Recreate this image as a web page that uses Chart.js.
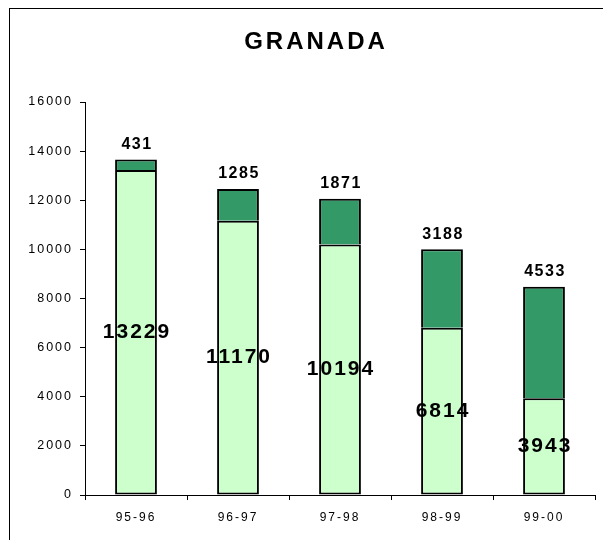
<!DOCTYPE html>
<html>
<head>
<meta charset="utf-8">
<script src="https://cdn.jsdelivr.net/npm/chart.js@4.4.0/dist/chart.umd.min.js"></script>
<style>
  html, body { margin: 0; padding: 0; background: #fff; }
  #wrap { width: 603px; height: 540px; }
</style>
</head>
<body>
<div id="wrap"><canvas id="myChart" width="603" height="540"></canvas></div>
<script>
var seasons = ['95-96', '96-97', '97-98', '98-99', '99-00'];
var lowerVals = [13229, 11170, 10194, 6814, 3943];
var upperVals = [431, 1285, 1871, 3188, 4533];
var yTicks = [0, 2000, 4000, 6000, 8000, 10000, 12000, 14000, 16000];

var FONT = '"Liberation Sans", Arial, sans-serif';

// frame, title and value labels drawn by hand
var extras = {
    id: 'extras',
    beforeDraw: function (chart) {
        var ctx = chart.ctx;
        ctx.save();
        ctx.fillStyle = '#fff';
        ctx.fillRect(0, 0, chart.width, chart.height);
        ctx.strokeStyle = '#000';
        ctx.lineWidth = 1;
        ctx.strokeRect(9.5, 8.5, 800, 800);
        ctx.restore();
        // tick labels in the original are spaced out a bit
        ctx.letterSpacing = '2px';
    },
    afterDatasetsDraw: function (chart) {
        var ctx = chart.ctx;
        ctx.save();
        ctx.fillStyle = '#000';
        ctx.textAlign = 'center';
        ctx.textBaseline = 'middle';

        ctx.font = 'bold 24px ' + FONT;
        ctx.letterSpacing = '3px';
        ctx.fillText('GRANADA', 316, 42);

        var m0 = chart.getDatasetMeta(0);
        ctx.font = 'bold 21px ' + FONT;
        ctx.letterSpacing = '2px';
        m0.data.forEach(function (bar, i) {
            ctx.fillText(String(lowerVals[i]), bar.x + 1, (bar.y + bar.base) / 2);
        });

        var m1 = chart.getDatasetMeta(1);
        ctx.font = 'bold 16px ' + FONT;
        ctx.letterSpacing = '1.5px';
        m1.data.forEach(function (bar, i) {
            ctx.fillText(String(upperVals[i]), bar.x + 1, bar.y - 15);
        });
        ctx.restore();
    }
};

var ctx_bar = document.getElementById('myChart');
var chart = new Chart(ctx_bar, {
    type: 'bar',
    data: {
        labels: seasons,
        datasets: [{
            label: 'lower',
            data: lowerVals,
            backgroundColor: '#CCFFCC',
            borderColor: '#000',
            borderWidth: 2,
            borderSkipped: false
        }, {
            label: 'upper',
            data: upperVals,
            backgroundColor: '#339966',
            borderColor: '#000',
            borderWidth: { top: 2, left: 2, right: 2, bottom: 0 },
            borderSkipped: false
        }]
    },
    options: {
        responsive: false,
        animation: false,
        layout: { padding: { top: 102, right: 8, left: 0, bottom: 0 } },
        datasets: { bar: { categoryPercentage: 1, barPercentage: 0.41 } },
        plugins: {
            legend: { display: false },
            tooltip: { enabled: false },
            title: { display: false }
        },
        scales: {
            x: {
                stacked: true,
                grid: { drawOnChartArea: false, drawTicks: true, tickLength: 5, color: '#000', offset: true },
                border: { display: true, color: '#000', width: 1 },
                ticks: { color: '#000', font: { family: FONT, size: 12 }, padding: 10, maxRotation: 0 },
                afterFit: function (s) { s.height = 45; }
            },
            y: {
                stacked: true,
                min: 0,
                max: 16000,
                afterBuildTicks: function (s) {
                    s.ticks = yTicks.map(function (v) { return { value: v }; });
                },
                grid: { drawOnChartArea: false, drawTicks: true, tickLength: 5, color: '#000' },
                border: { display: true, color: '#000', width: 1 },
                ticks: {
                    color: '#000',
                    font: { family: FONT, size: 12.5 },
                    padding: 7,
                    callback: function (v) { return String(v); }
                },
                afterFit: function (s) { s.width = 85; }
            }
        }
    },
    plugins: [extras]
});
</script>
</body>
</html>
